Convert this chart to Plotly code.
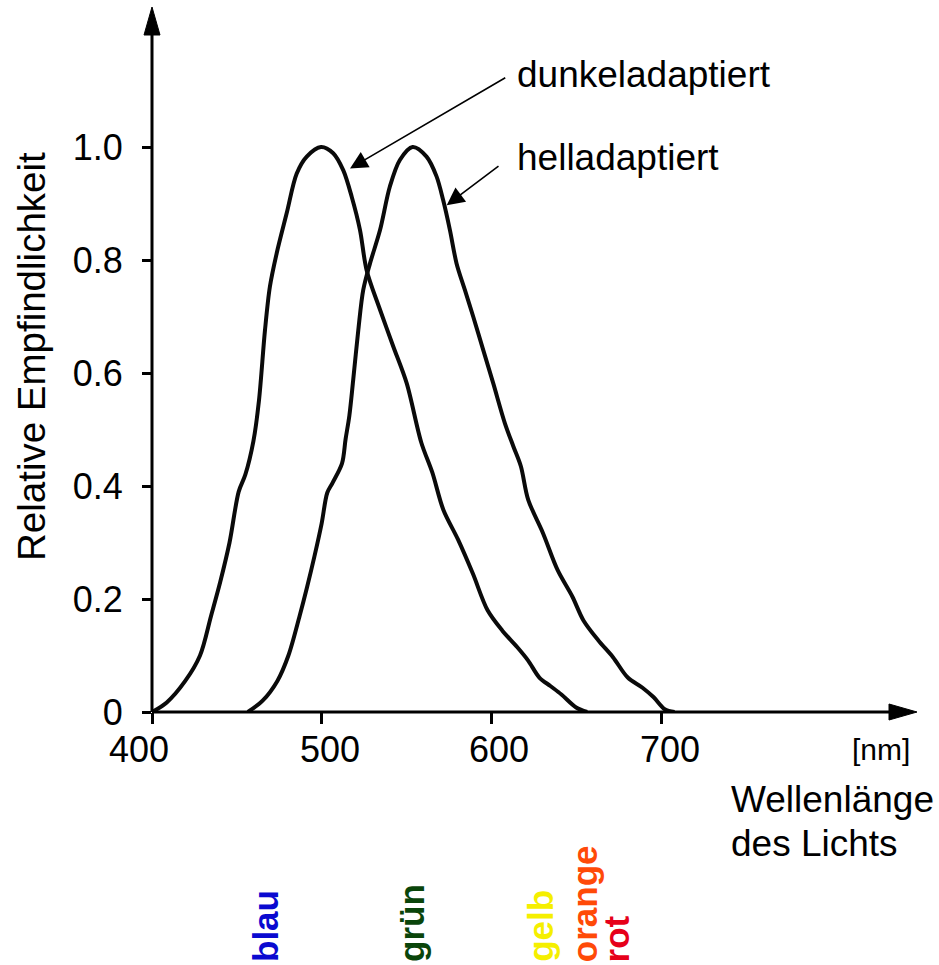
import plotly.graph_objects as go

# ---------------- data ----------------
wl_dunkel = [400, 408.7, 419.6, 428.3, 434.8, 440.2, 445.7, 451.1, 455.0, 459.8,
             463.0, 466.6, 469.5, 473.5, 479.4, 485.3, 491.2, 499.6, 506.8, 512.7,
             517.7, 522.6, 526.5, 534.4, 542.2, 550.1, 558.7, 565.2, 571.7, 580.4,
             589.1, 597.8, 606.5, 615.2, 621.7, 628.3, 634.8, 641.3, 650.0, 656.5]
rel_dunkel = [0.0, 0.017, 0.055, 0.10, 0.17, 0.23, 0.30, 0.39, 0.42, 0.48,
              0.55, 0.676, 0.753, 0.812, 0.883, 0.953, 0.983, 1.0, 0.989, 0.959,
              0.912, 0.853, 0.782, 0.712, 0.647, 0.582, 0.477, 0.424, 0.358, 0.305,
              0.245, 0.18, 0.144, 0.115, 0.091, 0.061, 0.046, 0.031, 0.008, 0.0]

wl_hell = [456.5, 465.2, 473.9, 480.4, 487.0, 491.3, 495.7, 500.0, 503.3, 506.5,
           512.0, 514.1, 516.3, 518.6, 521.6, 524.5, 528.5, 534.4, 540.2, 546.1,
           553.6, 561.8, 567.7, 571.6, 575.6, 579.5, 584.4, 589.3, 595.2, 601.1,
           608.0, 613.0, 617.4, 621.7, 630.4, 639.1, 647.8, 654.3, 663.0, 671.7,
           680.4, 689.1, 695.7, 702.2, 708.0]
rel_hell = [0.0, 0.02, 0.055, 0.10, 0.17, 0.22, 0.275, 0.334, 0.388, 0.406,
            0.44, 0.483, 0.524, 0.588, 0.676, 0.747, 0.794, 0.853, 0.930, 0.977,
            1.0, 0.983, 0.948, 0.906, 0.853, 0.794, 0.747, 0.70, 0.641, 0.582,
            0.511, 0.47, 0.435, 0.376, 0.317, 0.251, 0.204, 0.162, 0.127, 0.097,
            0.061, 0.043, 0.026, 0.005, 0.0]

x_ticks = [400, 500, 600, 700]
x_tick_labels = ["400", "500", "600", "700"]
y_ticks = [0, 0.2, 0.4, 0.6, 0.8, 1.0]
y_tick_labels = ["0", "0.2", "0.4", "0.6", "0.8", "1.0"]

farb_namen = ["blau", "grün", "gelb", "orange", "rot"]
farb_werte = ["#0a0ad0", "#0a450a", "#f5ef00", "#ff4a08", "#e6001a"]

# ---------------- layout geometry (pixels) ----------------
W, H = 939, 965
L, R, T, B = 152, 22, 7, 253
PW, PH = W - L - R, H - T - B
PX_PER_NM = 509 / 300.0
PX_PER_UNIT = 565.0
x_range = [400, 400 + PW / PX_PER_NM]
y_range = [0, PH / PX_PER_UNIT]


def px(xp):
    return (xp - L) / PW


def py(yp):
    return (H - B - yp) / PH


FONT = "Liberation Sans, Arial, Helvetica, sans-serif"
x_label_shift = [-13, 8, 8, 9]
farb_x = [466.6, 552.6, 628.6, 655.0, 674.0]

fig = go.Figure()
line_style = dict(color="#0a0a0a", width=4, shape="spline", smoothing=0.9)
fig.add_trace(go.Scatter(x=wl_dunkel, y=rel_dunkel, mode="lines", line=line_style,
                         name="dunkeladaptiert", cliponaxis=False))
fig.add_trace(go.Scatter(x=wl_hell, y=rel_hell, mode="lines", line=line_style,
                         name="helladaptiert", cliponaxis=False))

shapes = [
    # axis lines
    dict(type="line", xref="paper", yref="paper", x0=0, y0=0, x1=px(895), y1=0,
         line=dict(color="black", width=3)),
    dict(type="line", xref="paper", yref="paper", x0=0, y0=0, x1=0, y1=py(28),
         line=dict(color="black", width=3)),
    # arrow heads
    dict(type="path", xref="paper", yref="paper",
         path=f"M {px(152)},{py(7)} L {px(144)},{py(35)} L {px(160)},{py(35)} Z",
         fillcolor="black", line=dict(color="black", width=1)),
    dict(type="path", xref="paper", yref="paper",
         path=f"M {px(917)},{py(712)} L {px(889)},{py(704)} L {px(889)},{py(720)} Z",
         fillcolor="black", line=dict(color="black", width=1)),
]

annotations = []
for v, t, s in zip(x_ticks, x_tick_labels, x_label_shift):
    annotations.append(dict(x=v, y=py(749), xref="x", yref="paper", text=t,
                            showarrow=False, xanchor="center", yanchor="middle",
                            xshift=s, font=dict(family=FONT, size=36, color="black")))

annotations += [
    dict(x=px(881), y=py(749), xref="paper", yref="paper", text="[nm]",
         showarrow=False, xanchor="center", yanchor="middle",
         font=dict(family=FONT, size=30, color="black")),
    dict(x=px(729), y=py(799), xref="paper", yref="paper", text="Wellenlänge",
         showarrow=False, xanchor="left", yanchor="middle",
         font=dict(family=FONT, size=37, color="black")),
    dict(x=px(729), y=py(843), xref="paper", yref="paper", text="des Lichts",
         showarrow=False, xanchor="left", yanchor="middle",
         font=dict(family=FONT, size=37, color="black")),
    dict(x=px(31), y=py(357), xref="paper", yref="paper", text="Relative Empfindlichkeit",
         textangle=-90, showarrow=False, xanchor="center", yanchor="middle",
         font=dict(family=FONT, size=38.5, color="black")),
    dict(x=px(515), y=py(74), xref="paper", yref="paper", text="dunkeladaptiert",
         showarrow=False, xanchor="left", yanchor="middle",
         font=dict(family=FONT, size=37, color="black")),
    dict(x=px(515), y=py(158), xref="paper", yref="paper", text="helladaptiert",
         showarrow=False, xanchor="left", yanchor="middle",
         font=dict(family=FONT, size=37, color="black")),
    # pointer arrows
    dict(x=516.7, y=0.962, ax=609.1, ay=1.124, xref="x", yref="y", axref="x", ayref="y",
         text="", showarrow=True, arrowhead=2, arrowsize=2.2, arrowwidth=1.6,
         arrowcolor="black", standoff=0),
    dict(x=573.7, y=0.897, ax=605.1, ay=0.968, xref="x", yref="y", axref="x", ayref="y",
         text="", showarrow=True, arrowhead=2, arrowsize=2.2, arrowwidth=1.6,
         arrowcolor="black", standoff=0),
]

for name, col, xv in zip(farb_namen, farb_werte, farb_x):
    annotations.append(dict(x=xv, y=py(964), xref="x", yref="paper", text=f"<b>{name}</b>",
                            textangle=-90, showarrow=False, xanchor="center",
                            yanchor="bottom",
                            font=dict(family=FONT, size=35, color=col)))

fig.update_layout(
    width=W, height=H,
    margin=dict(l=L, r=R, t=T, b=B, pad=0),
    paper_bgcolor="white", plot_bgcolor="white",
    showlegend=False,
    shapes=shapes,
    annotations=annotations,
    xaxis=dict(range=x_range, tickvals=x_ticks, ticktext=x_tick_labels,
               showticklabels=False, ticks="outside", ticklen=11, tickwidth=2.6,
               tickcolor="black", showgrid=False, zeroline=False, showline=False,
               fixedrange=True),
    yaxis=dict(range=y_range, tickvals=y_ticks, ticktext=y_tick_labels,
               ticks="outside", ticklen=9, tickwidth=2.6, tickcolor="black",
               tickfont=dict(family=FONT, size=36, color="black"),
               ticklabelstandoff=12,
               showgrid=False, zeroline=False, showline=False, fixedrange=True),
)

fig.write_html("out.html")
